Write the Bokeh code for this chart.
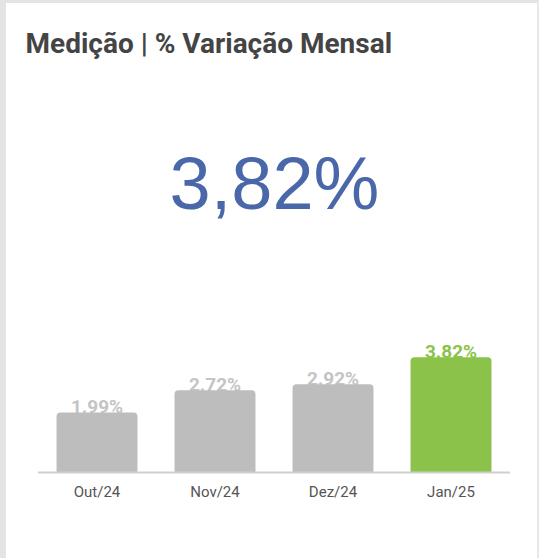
from bokeh.plotting import figure
from bokeh.models import ColumnDataSource, Range1d, Label, FixedTicker, Spacer
from bokeh.layouts import row, column
from bokeh.core.properties import value
from bokeh.embed import file_html
from bokeh.resources import INLINE

months = ["Out/24", "Nov/24", "Dez/24", "Jan/25"]
variation = [1.99, 2.72, 2.92, 3.82]
bar_colors = ["#bdbdbd", "#bdbdbd", "#bdbdbd", "#8bc34a"]
label_colors = ["#c4c4c4", "#c4c4c4", "#c4c4c4", "#8bc34a"]
labels = [f"{v:.2f}%" for v in variation]
headline = f"{variation[-1]:.2f}%".replace(".", ",")
title_text = "Medição | % Variação Mensal"

idx = list(range(len(months)))
src = ColumnDataSource(dict(x=idx, v=variation, c=bar_colors, lc=label_colors, t=labels))

p = figure(width=531, height=555, output_backend="svg", toolbar_location=None,
           x_range=Range1d(-0.767, 3.733), y_range=Range1d(-0.099, 15.53),
           min_border_left=0, min_border_right=0, min_border_top=0, min_border_bottom=83)
p.outline_line_color = None
p.background_fill_color = "white"
p.border_fill_color = "white"
p.xgrid.visible = False
p.ygrid.visible = False
p.yaxis.visible = False

p.text(x="x", y="v", text="t", source=src, text_color="lc", text_align="center",
       text_baseline="alphabetic", y_offset=-6, text_font=value("Roboto"),
       text_font_style="bold", text_font_size="19px")
p.vbar(x="x", top="v", width=0.686, source=src, fill_color="c", line_color=None,
       border_radius=[4, 4, 0, 0])
p.segment(x0=[-0.5], x1=[len(months) - 0.5], y0=[0], y1=[0],
          line_color="#cfcfcf", line_width=2)

ax = p.xaxis[0]
ax.ticker = FixedTicker(ticks=idx)
ax.major_label_overrides = {i: m for i, m in zip(idx, months)}
ax.axis_line_color = None
ax.major_tick_line_color = None
ax.minor_tick_line_color = None
ax.major_label_text_font = "Roboto"
ax.major_label_text_font_size = "15px"
ax.major_label_text_color = "#555555"
ax.major_label_standoff = 1

p.add_layout(Label(x=19, y=432, x_units="screen", y_units="screen", text=title_text,
                   text_font="Roboto", text_font_style="bold", text_font_size="28px",
                   text_color="#444444", text_baseline="alphabetic"))
p.add_layout(Label(x=268, y=292, x_units="screen", y_units="screen", text=headline,
                   text_font="Liberation Sans", text_font_size="74px",
                   text_color="#4a68a9", text_align="center", text_baseline="alphabetic"))

edge = "#e4e4e4"
layout = row(Spacer(width=6, height=558, styles={"background-color": edge}),
             column(Spacer(width=531, height=3, styles={"background-color": edge}), p),
             Spacer(width=2, height=558, styles={"background-color": "#e8e8e8"}))

open("out.html", "w").write(file_html(layout, INLINE))
